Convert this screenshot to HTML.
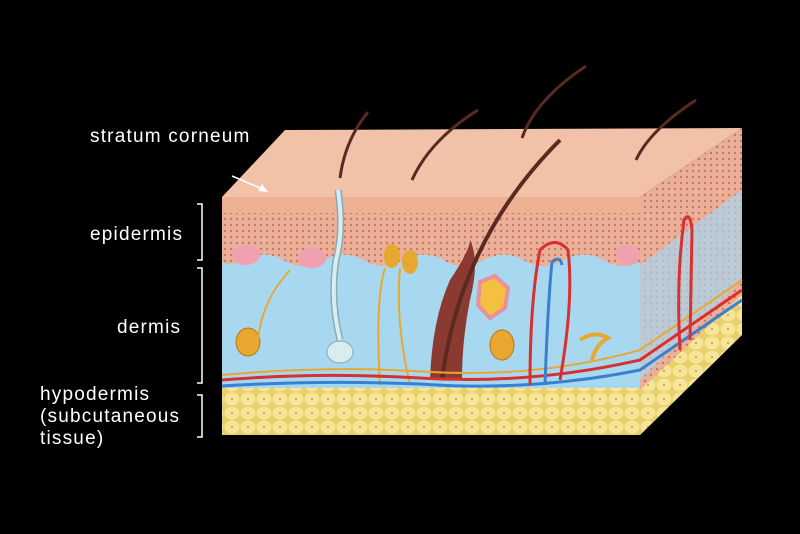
<!DOCTYPE html>
<html><head><meta charset="utf-8"><style>
html,body{margin:0;padding:0;background:#000;}
svg{display:block}
text{font-family:"Liberation Sans",sans-serif;fill:#fff;font-size:19px;letter-spacing:1.2px}
</style></head><body>
<svg width="800" height="534" viewBox="0 0 800 534">
<rect width="800" height="534" fill="#000"/>
<defs>
<pattern id="dots" width="6" height="6" patternUnits="userSpaceOnUse">
<rect width="6" height="6" fill="#eab09a"/><circle cx="3" cy="3" r="1.2" fill="#c9785e"/>
</pattern>
<pattern id="fat" width="16" height="14" patternUnits="userSpaceOnUse">
<rect width="16" height="14" fill="#e8cf6a"/><ellipse cx="8" cy="7" rx="7.5" ry="6.5" fill="#f6e497"/><circle cx="8" cy="7" r="1" fill="#b89a3a"/>
</pattern>
</defs>
<polygon points="640,197 742,128 742,335 640,435" fill="url(#dots)"/>
<polygon points="640,265 742,190 742,280 640,380" fill="#a8d6ee" opacity="0.7"/>
<polygon points="640,390 742,295 742,335 640,435" fill="url(#fat)"/>
<polygon points="222,197 285,130 742,128 640,197" fill="#f2c2a8"/>
<rect x="222" y="197" width="418" height="238" fill="#a8d8f0"/>
<rect x="222" y="197" width="418" height="16" fill="#eeb092"/>
<path d="M222,213 H640 V262 Q620,272 600,258 Q580,250 560,262 Q540,272 520,258 Q500,250 480,262 Q460,272 440,258 Q420,250 400,262 Q380,272 360,258 Q340,250 320,262 Q300,272 280,258 Q260,250 240,262 Q230,266 222,262 Z" fill="url(#dots)"/>
<rect x="222" y="388" width="418" height="47" fill="url(#fat)"/>
<ellipse cx="248" cy="342" rx="12" ry="14" fill="#e8a830" stroke="#b87818"/>
<ellipse cx="502" cy="345" rx="12" ry="15" fill="#e8a830" stroke="#b87818"/>
<ellipse cx="312" cy="258" rx="14" ry="10" fill="#f0a0b0"/>
<ellipse cx="246" cy="255" rx="14" ry="10" fill="#f0a0b0"/>
<ellipse cx="628" cy="255" rx="12" ry="10" fill="#f0a0b0"/>
<ellipse cx="392" cy="256" rx="8" ry="12" fill="#e8a830"/>
<ellipse cx="410" cy="262" rx="8" ry="12" fill="#e8a830"/>
<path d="M480,282 L495,276 L508,288 L505,308 L490,318 L478,305 Z" fill="#f5c040" stroke="#e890a0" stroke-width="4"/>
<path d="M580,340 Q595,330 608,338 Q596,344 592,360" stroke="#e8a830" stroke-width="4" fill="none"/>
<path d="M258,340 Q262,300 290,270 M400,268 Q395,320 410,385 M385,268 Q375,300 380,385" stroke="#e8a830" stroke-width="2" fill="none"/>
<path d="M338,190 Q344,230 336,260 Q330,300 340,340" stroke="#8ab" stroke-width="7" fill="none"/>
<path d="M338,190 Q344,230 336,260 Q330,300 340,340" stroke="#d8eeee" stroke-width="4" fill="none"/>
<ellipse cx="340" cy="352" rx="13" ry="11" fill="#d8eeee" stroke="#8ab"/>
<path d="M430,380 Q432,320 450,280 Q470,250 470,240 Q480,260 470,300 Q462,340 462,380 Z" fill="#8a3a30"/>
<path d="M442,380 Q460,240 560,140" stroke="#5a2a22" stroke-width="4" fill="none"/>
<path d="M340,178 Q345,140 368,112 M412,180 Q430,140 478,110 M522,138 Q535,100 586,66 M636,160 Q650,130 696,100" stroke="#5a2a22" stroke-width="3" fill="none"/>
<path d="M222,380 Q320,372 420,378 Q530,385 640,360 L742,290" stroke="#d83030" stroke-width="3" fill="none"/>
<path d="M222,386 Q320,380 420,384 Q530,392 640,370 L742,300" stroke="#3a80d0" stroke-width="3" fill="none"/>
<path d="M222,375 Q330,365 430,372 Q540,378 640,350 L742,280" stroke="#e8a830" stroke-width="2" fill="none"/>
<path d="M530,385 Q530,300 540,250 Q555,235 568,250 Q574,300 560,380" stroke="#d83030" stroke-width="3" fill="none"/>
<path d="M545,385 Q548,300 552,262 Q560,255 562,265" stroke="#3a80d0" stroke-width="3" fill="none"/>
<path d="M680,350 Q676,280 684,220 Q690,210 692,230 L690,340" stroke="#d83030" stroke-width="3" fill="none"/>
<text x="90" y="142">stratum corneum</text>
<line x1="232" y1="176" x2="265" y2="190" stroke="#fff" stroke-width="1.5"/>
<polygon points="268,192 258,191 262,184" fill="#fff"/>
<text x="90" y="240">epidermis</text>
<text x="117" y="333">dermis</text>
<text x="40" y="400">hypodermis</text>
<text x="40" y="422">(subcutaneous</text>
<text x="40" y="444">tissue)</text>
<path d="M197,204 H202 V260 H197 M197,268 H202 V383 H197 M197,395 H202 V437 H197" stroke="#fff" stroke-width="1.5" fill="none"/>
</svg>
</body></html>
